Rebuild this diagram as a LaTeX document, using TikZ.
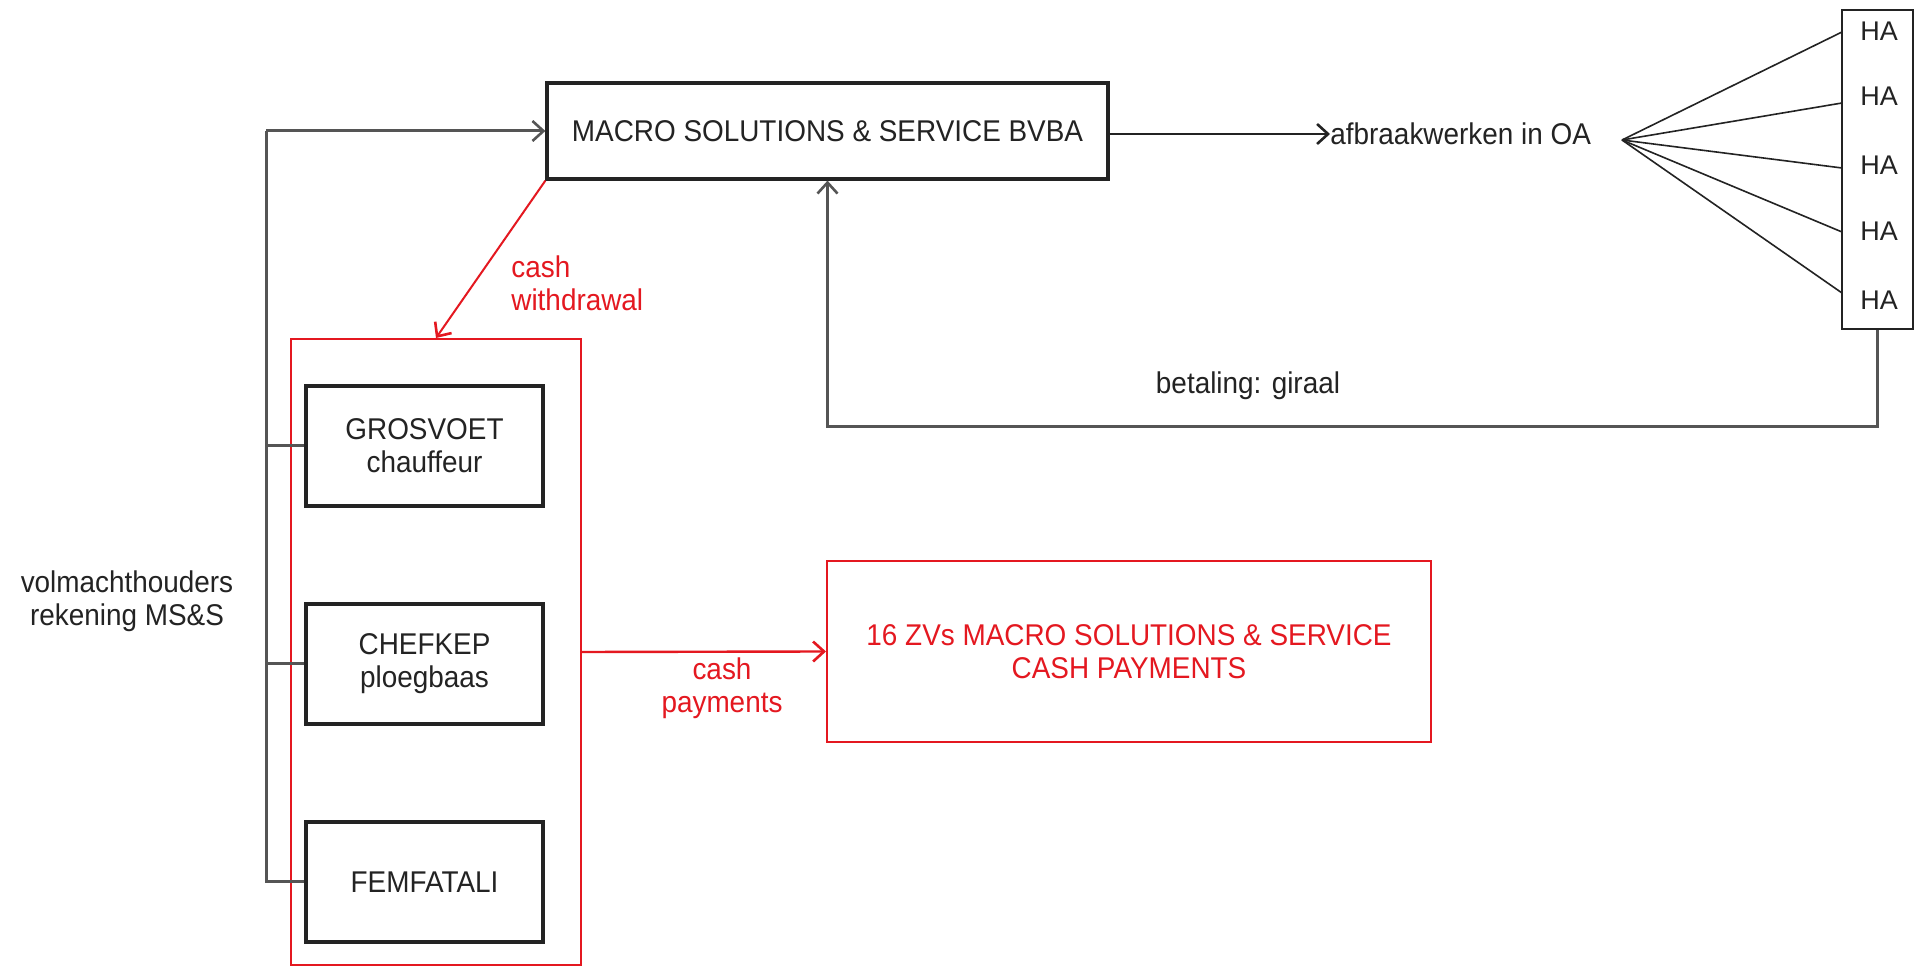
\documentclass[tikz,border=0pt]{standalone}
\usepackage{fontspec}
\setmainfont[FakeStretch=0.93]{Liberation Sans}
\newfontfamily\plainfont{Liberation Sans}
\usetikzlibrary{arrows.meta,calc}
\definecolor{myred}{RGB}{228,24,32}
\definecolor{ink}{RGB}{35,35,35}
\definecolor{busgray}{RGB}{85,85,85}
\begin{document}
\begin{tikzpicture}[x=0.5pt,y=-0.5pt,
  font=\fontsize{15}{16.5}\selectfont,
  blkbox/.style={draw=ink, line width=1.6pt, text=ink, align=center, inner sep=0pt},
  redbx/.style={draw=myred, line width=1pt, text=myred, align=center, inner sep=0pt},
  txt/.style={text=ink, inner sep=0pt, align=center},
  hatxt/.style={text=ink, inner sep=0pt, font=\plainfont\fontsize{13.5}{16}\selectfont},
  redtxt/.style={text=myred, inner sep=0pt, align=center},
  arr/.style={-{Straight Barb[length=5.5pt,width=10pt,line width=1.3pt]}},
  bus/.style={draw=busgray, line width=1.5pt},
  redline/.style={draw=myred, line width=1pt},
  thinline/.style={draw=ink, line width=0.8pt},
  retline/.style={draw=busgray, line width=1.2pt}
]
\useasboundingbox (0,0) rectangle (1919,967);
\fill[white] (0,0) rectangle (1919,967);

% main boxes
\node[blkbox, minimum width=280.5pt, minimum height=48pt] (macro) at (827.5,131) {MACRO SOLUTIONS \& SERVICE BVBA};
\node[redbx, minimum width=145pt, minimum height=313pt] (redbox) at (436,652) {};
\node[blkbox, minimum width=118.5pt, minimum height=60pt] (gros) at (424.5,446) {GROSVOET\\chauffeur};
\node[blkbox, minimum width=118.5pt, minimum height=60pt] (chef) at (424.5,664) {CHEFKEP\\ploegbaas};
\node[blkbox, minimum width=118.5pt, minimum height=60pt] (fem) at (424.5,882) {FEMFATALI};
\node[redbx, minimum width=302pt, minimum height=90.5pt] (zv) at (1129,651.5) {16 ZVs MACRO SOLUTIONS \& SERVICE\\CASH PAYMENTS};

% HA column
\node[draw=ink, line width=1pt, minimum width=35.5pt, minimum height=159.5pt, inner sep=0pt] (habox) at (1877.5,169.5) {};
\node[hatxt] (ha1) at (1879,31) {HA};
\node[hatxt] (ha2) at (1879,96) {HA};
\node[hatxt] (ha3) at (1879,165) {HA};
\node[hatxt] (ha4) at (1879,231) {HA};
\node[hatxt] (ha5) at (1879,300) {HA};
\coordinate (h1) at (1842,32);
\coordinate (h2) at (1842,103);
\coordinate (h3) at (1842,168);
\coordinate (h4) at (1842,232);
\coordinate (h5) at (1842,293);

% texts
\node[txt, anchor=west] (afb) at (1330,134) {afbraakwerken in OA};
\coordinate (fan) at (1622,140);
\node[txt] (volm) at (127,601) {volmachthouders\\rekening MS\&S};
\node[redtxt, anchor=west, align=left] (withd) at (511,283) {cash\\withdrawal};
\node[redtxt] (paym) at (722,688) {cash\\payments};
\node[txt] (betal) at (1248,386) {betaling: giraal};

% bus on the left
\coordinate (bustop) at (266,131);
\draw[bus] (fem.west) -| (bustop);
\draw[bus] (gros.west) -- (gros.west -| bustop);
\draw[bus] (chef.west) -- (chef.west -| bustop);
\draw[bus, arr] (bustop) -- (macro.west);

% macro -> afbraakwerken
\draw[thinline, line width=1.2pt, arr] (macro.east |- afb.west) -- (afb.west);

% fan to HA
\foreach \h in {h1,h2,h3,h4,h5}{
  \draw[thinline] (fan) -- (\h);
}

% return payment
\path (macro.south) ++(0,246) coordinate (retl);
\draw[retline, arr] (habox.south) |- (retl) -- (macro.south);

% red arrows
\draw[redline, arr] (macro.south west) -- (redbox.north);
\draw[redline, line width=1.2pt, arr] (redbox.east) -- (zv.west);
\end{tikzpicture}
\end{document}
